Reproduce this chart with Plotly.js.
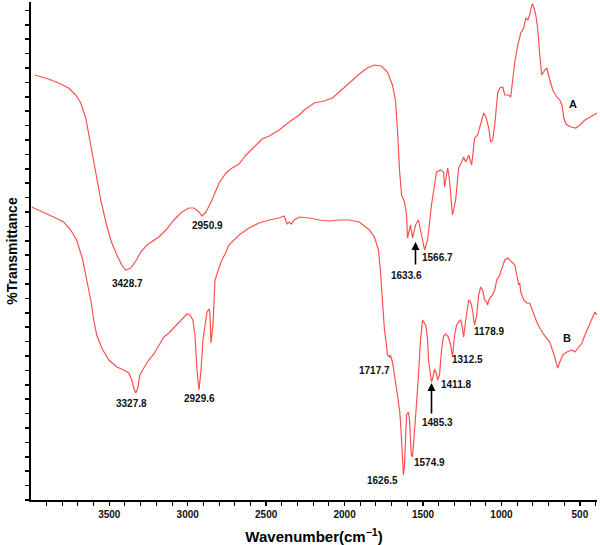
<!DOCTYPE html>
<html>
<head>
<meta charset="utf-8">
<script src="https://cdn.plot.ly/plotly-3.0.1.min.js"></script>
<style>html,body{margin:0;padding:0;background:#fff;}#chart{width:600px;height:545px;}</style>
</head>
<body>
<div id="chart"></div>
<script>
// Spectrum A (wavenumber, cm-1) and transmittance (arbitrary units)
const waveA = [3976,3887,3823,3759,3714,3682,3650,3625,3599,3580,3554,3522,3491,3452,3420,3395,3363,3331,3299,3260,3216,3184,3139,3088,3037,2992,2960,2928,2909,2883,2845,2800,2756,2717,2673,2628,2577,2526,2481,2417,2353,2289,2257,2193,2129,2078,2034,1970,1906,1855,1810,1765,1727,1695,1676,1663,1650,1637,1618,1605,1599,1580,1567,1548,1529,1516,1490,1471,1446,1414,1388,1369,1363,1343,1331,1318,1312,1292,1273,1254,1241,1228,1209,1190,1177,1171,1152,1133,1113,1101,1081,1069,1056,1043,1030,1024,1011,992,979,954,941,928,915,896,877,858,845,832,820,807,800,781,768,756,743,724,711,692,673,647,628,615,602,589,558,526,500,468,436,417,391];
const transA = [106.25,105.25,104.25,103,101.25,99.25,95.5,90,85,80,75,69.5,65,61.25,58.75,57.5,58,59.75,62,63.75,65,65.75,67.5,70,72,73,73,72,71,72,75,79.25,81.75,83,84,86.25,88.25,90.25,91,92.5,94.5,96.25,97.5,99.25,99.75,100.5,102,104.25,106.5,108,108.75,108.5,107,103.75,100,92.5,82.5,76.25,74.5,71.25,65.5,68.75,65.5,68.75,70,67.5,62.5,65,73.75,82,82.5,82,78.25,83,80,73.75,71.25,75,83,84.5,85.75,84.5,86.25,83.75,87.5,90.5,91.25,94.25,96.75,96,93,89.5,90,93.75,98.75,101.75,103,103.25,101.25,101.25,100.75,105.75,109.5,113.75,116.75,118,120.5,120,121.25,123.75,124,121.25,117.5,111.25,106.25,107.5,108,105,102.5,100.75,100,98.75,95.5,94,93.25,93,93.75,95,95.75,96.25,96.75];

// Spectrum B
const waveB = [3995,3919,3855,3791,3746,3708,3669,3644,3618,3599,3580,3548,3503,3452,3407,3376,3356,3344,3331,3318,3305,3280,3248,3216,3184,3152,3120,3088,3056,3030,3005,2986,2967,2954,2941,2928,2915,2903,2890,2877,2864,2858,2852,2839,2826,2807,2788,2762,2737,2673,2609,2545,2481,2417,2385,2366,2353,2340,2321,2289,2225,2161,2098,2034,1970,1906,1842,1810,1784,1772,1759,1746,1733,1727,1714,1708,1695,1676,1663,1650,1644,1637,1631,1625,1618,1612,1605,1593,1586,1580,1574,1567,1561,1548,1542,1529,1516,1503,1484,1478,1471,1465,1452,1446,1433,1427,1414,1407,1395,1382,1369,1356,1343,1337,1324,1318,1312,1299,1286,1273,1260,1254,1248,1241,1228,1216,1209,1197,1184,1177,1171,1158,1145,1133,1120,1107,1094,1088,1081,1069,1056,1043,1030,1011,992,979,960,935,915,896,890,883,877,858,839,820,800,775,749,724,692,673,660,647,641,628,609,583,551,532,513,487,468,449,430,417,404,391];
const transB = [73.25,72,70.75,69.5,67.5,65,60,55,50,45,41.25,38,35,33.25,32.5,31.75,30,28,26.75,28,31.25,33,35,36.5,38.75,40.75,41.75,43,44.25,45.5,46.5,46.25,45,41.25,32.5,27.5,32.5,40,43.75,47,47.75,46.75,39.25,43.75,55,57.5,59.5,61.5,63.75,66.25,68,69.25,70,70.5,71,69,69.5,69,70,70.75,70.5,70,69.75,70,70,69.5,67.5,65.75,62.5,57.5,50,42.5,38.75,36.25,35.75,36.25,34.5,30,26.25,22.5,20,15,10,6.25,8.75,15,21.25,22,20,15,11.25,10.75,13.75,18.75,23.75,31.25,40,45,43.75,42.5,40,35,30.25,29.5,31.25,32.75,31.5,30,31.25,37.5,41,41.5,41,40.5,38.75,36.25,35.75,41.25,43.75,44.5,45,44.25,42,40.75,45,48.75,50,49.5,47.5,45,43.75,46.25,51.25,53.25,52.5,50,49.5,48.75,50,50.75,51.25,52.5,55,56.25,58.75,60,60.5,59.5,58.75,55,53.75,54.25,52,50,49.25,49.25,47,44.5,42.5,41,39.5,37.5,35.75,33.75,33,34.5,36.25,37,37.5,37,38,39.25,41.25,43,44.5,45.5,47,46.25];

// Peak labels
const peakText = ["3428.7","2950.9","1633.6","1566.7","3327.8","2929.6","1717.7","1626.5","1574.9","1485.3","1411.8","1312.5","1178.9"];
const peakX    = [3382,2877,1605,1407,3356,2928,1810,1759,1459,1407,1292,1216,1081];
const peakY    = [54.25,68.75,56.25,60.75,24.25,25.5,32.5,5,9.5,19.5,29,35.25,42.25];

// Curve tags
const tagText = ["A","B"];
const tagX = [545,583];
const tagY = [99,40.5];

// Arrows (tail -> head)
const arrowX = [1548,1446];
const arrowTailY = [58.5,21.25];
const arrowHeadY = [64.5,29.25];

const lineColor = 'rgb(255,80,80)';
const fontFam = '"Liberation Sans", Arial, sans-serif';

const traces = [
  {x: waveA, y: transA, type: 'scatter', mode: 'lines', line: {color: lineColor, width: 1.2}, hoverinfo: 'skip'},
  {x: waveB, y: transB, type: 'scatter', mode: 'lines', line: {color: lineColor, width: 1.2}, hoverinfo: 'skip'}
];

const annotations = [];
peakText.forEach((t, i) => annotations.push({
  x: peakX[i], y: peakY[i], xref: 'x', yref: 'y', text: t, showarrow: false,
  font: {family: fontFam, size: 10, color: '#111', weight: 'bold'}
}));
tagText.forEach((t, i) => annotations.push({
  x: tagX[i], y: tagY[i], xref: 'x', yref: 'y', text: t, showarrow: false,
  font: {family: fontFam, size: 11, color: '#111', weight: 'bold'}
}));
arrowX.forEach((ax, i) => annotations.push({
  x: ax, y: arrowHeadY[i], xref: 'x', yref: 'y',
  ax: ax, ay: arrowTailY[i], axref: 'x', ayref: 'y',
  text: '', showarrow: true, arrowhead: 2, arrowsize: 1, arrowwidth: 1.6, arrowcolor: '#000'
}));

const layout = {
  width: 600, height: 545,
  margin: {l: 31, r: 3, t: 2, b: 45},
  paper_bgcolor: '#fff', plot_bgcolor: '#fff',
  showlegend: false,
  font: {family: fontFam, color: '#000'},
  xaxis: {
    range: [3999, 391],
    showgrid: false, zeroline: false,
    showline: true, linecolor: '#000', linewidth: 2,
    ticks: 'outside', ticklen: 4, tickwidth: 1.5, tickcolor: '#000',
    dtick: 500, tick0: 0,
    minor: {dtick: 100, ticks: 'outside', ticklen: 4, tickwidth: 1, tickcolor: '#000', showgrid: false},
    tickfont: {family: fontFam, size: 10, color: '#111', weight: 'bold'},
    title: {text: 'Wavenumber(cm<sup>−1</sup>)', font: {family: fontFam, size: 15, color: '#000', weight: 'bold'}, standoff: 14}
  },
  yaxis: {
    range: [0, 124.5],
    showgrid: false, zeroline: false,
    showline: true, linecolor: '#000', linewidth: 2,
    ticks: 'outside', ticklen: 4, tickwidth: 1.5, tickcolor: '#000',
    dtick: 3.6, tick0: 0,
    showticklabels: false,
    title: {text: '%Transmittance', font: {family: fontFam, size: 14, color: '#000', weight: 'bold'}, standoff: 4}
  },
  annotations: annotations
};

Plotly.newPlot('chart', traces, layout, {displayModeBar: false, staticPlot: true});
</script>
</body>
</html>
